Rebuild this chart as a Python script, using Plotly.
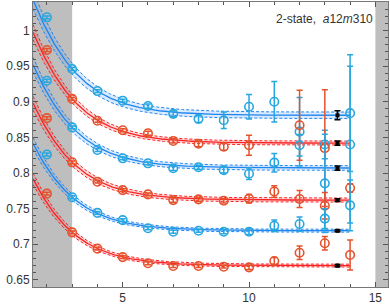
import numpy as np
import plotly.graph_objects as go

# ---------------- data ----------------
t = [2, 3, 4, 5, 6, 7, 8, 9, 10, 11, 12, 13, 14]

blue1 = [1.0185, 0.946, 0.915, 0.9015, 0.894, 0.883, 0.876, 0.874, 0.893, 0.900, 0.858, 0.840, 0.884]
blue1_err = [0.002, 0.002, 0.002, 0.002, 0.003, 0.004, 0.005, 0.0115, 0.0173, 0.0285, 0.048, 0.02, 0.082]
red1 = [0.9727, 0.904, 0.8734, 0.860, 0.8557, 0.845, 0.841, 0.8369, 0.839, None, 0.867, 0.835, None]
red1_err = [0.002, 0.002, 0.002, 0.002, 0.003, 0.003, 0.004, 0.005, 0.014, None, 0.049, 0.082, None]
blue2 = [0.9295, 0.864, 0.8323, 0.8206, 0.8136, 0.8066, 0.808, 0.804, 0.799, 0.8145, 0.839, 0.7855, 0.840]
blue2_err = [0.002, 0.002, 0.002, 0.002, 0.002, 0.003, 0.003, 0.004, 0.008, 0.013, 0.015, 0.069, 0.110]
red2 = [0.877, 0.815, 0.7878, 0.776, 0.770, 0.762, 0.763, 0.761, 0.764, 0.774, 0.7635, 0.754, 0.779]
red2_err = [0.002, 0.002, 0.002, 0.002, 0.002, 0.003, 0.003, 0.003, 0.006, 0.008, 0.012, 0.0187, 0.006]
blue3 = [0.826, 0.766, 0.744, 0.7338, 0.7224, 0.7176, 0.719, 0.7176, 0.7176, 0.726, 0.7284, 0.736, 0.7546]
blue3_err = [0.002, 0.002, 0.002, 0.002, 0.002, 0.002, 0.002, 0.003, 0.004, 0.008, 0.010, 0.014, 0.0357]
red3 = [0.771, 0.7167, 0.6938, 0.682, 0.6733, 0.6695, 0.6695, 0.6685, 0.6676, 0.6765, 0.688, 0.7014, 0.685]
red3_err = [0.002, 0.002, 0.002, 0.002, 0.002, 0.002, 0.002, 0.002, 0.003, 0.005, 0.0095, 0.0095, 0.021]

# fit results (2-state): plateau, excess at t=3, gap, plateau error, band half-width
plateau = [0.881, 0.842, 0.807, 0.762, 0.719, 0.670]
excess3 = [0.065, 0.062, 0.057, 0.053, 0.047, 0.0467]
gap = [0.7, 0.7, 0.7, 0.7, 0.7, 0.7]
plateau_err = [0.0063, 0.003, 0.003, 0.002, 0.0015, 0.0015]
band_hw = [0.0045, 0.0028, 0.0032, 0.0028, 0.002, 0.002]
fit_tmin, fit_tmax = 1.45, 14
plateau_x = 13.5
excluded_lo = 3
excluded_hi = 15

x_ticks = [5, 10, 15]
y_ticks = [0.65, 0.7, 0.75, 0.8, 0.85, 0.9, 0.95, 1]
y_ticktext = ["0.65", "0.7", "0.75", "0.8", "0.85", "0.9", "0.95", "1"]
label = "2-state,  <i>a</i>12<i>m</i>310"

# ---------------- styles ----------------
BLUE_PT = "#27A7DF"
RED_PT = "#E4522C"
BLUE_LN = "#1F86F0"
RED_LN = "#FA2222"
BLUE_BAND = "rgba(90,160,245,0.22)"
RED_BAND = "rgba(250,90,90,0.22)"

series = [
    (blue1, blue1_err, BLUE_PT, BLUE_LN, BLUE_BAND),
    (red1, red1_err, RED_PT, RED_LN, RED_BAND),
    (blue2, blue2_err, BLUE_PT, BLUE_LN, BLUE_BAND),
    (red2, red2_err, RED_PT, RED_LN, RED_BAND),
    (blue3, blue3_err, BLUE_PT, BLUE_LN, BLUE_BAND),
    (red3, red3_err, RED_PT, RED_LN, RED_BAND),
]

X_RANGE = [1.45, 15.5]
Y_RANGE = [0.64, 1.04]

fig = go.Figure()

tt = np.linspace(fit_tmin, fit_tmax, 300)


def fit_curve(P, B, d):
    e = np.exp(-d)
    q3 = (np.exp(B) - 1) / (1 - np.exp(B) * e)
    R = q3 * np.exp(3 * d)
    q = R * np.exp(-d * tt)
    ex = np.log((1 + q) / (1 + q * e))
    return P + ex, ex


for i, (vals, errs, cpt, cln, cband) in enumerate(series):
    yc, ex = fit_curve(plateau[i], excess3[i], gap[i])
    hw = band_hw[i] + 0.05 * ex
    up = yc + hw
    lo = yc - hw
    fig.add_trace(go.Scatter(x=tt, y=lo, mode="lines", line=dict(color=cln, width=1, dash="3px,2px"),
                             hoverinfo="skip", showlegend=False))
    fig.add_trace(go.Scatter(x=tt, y=up, mode="lines", line=dict(color=cln, width=1, dash="3px,2px"),
                             fill="tonexty", fillcolor=cband, hoverinfo="skip", showlegend=False))
    fig.add_trace(go.Scatter(x=tt, y=yc, mode="lines", line=dict(color=cln, width=1.3),
                             hoverinfo="skip", showlegend=False))

for i, (vals, errs, cpt, cln, cband) in enumerate(series):
    fig.add_trace(go.Scatter(
        x=t, y=vals, mode="markers",
        marker=dict(symbol="circle-open", size=8.5, color=cpt, line=dict(width=1.6, color=cpt)),
        error_y=dict(type="data", array=errs, visible=True, color=cpt, thickness=1.5, width=3),
        showlegend=False))

fig.add_trace(go.Scatter(
    x=[plateau_x] * len(plateau), y=plateau, mode="markers",
    marker=dict(symbol="square", size=4, color="black"),
    error_y=dict(type="data", array=plateau_err, visible=True, color="black", thickness=1.5, width=3),
    showlegend=False))

fig.add_shape(type="rect", xref="x", yref="paper", x0=X_RANGE[0], x1=excluded_lo, y0=0, y1=1,
              fillcolor="#BEBEBE", line=dict(width=0), layer="below")
fig.add_shape(type="rect", xref="x", yref="paper", x0=excluded_hi, x1=X_RANGE[1], y0=0, y1=1,
              fillcolor="#BEBEBE", line=dict(width=0), layer="below")

fig.add_annotation(text=label, xref="paper", yref="paper", x=0.962, y=0.94,
                   xanchor="right", yanchor="middle", showarrow=False,
                   font=dict(family="Liberation Sans", size=12, color="#333"))

axis_common = dict(showline=True, linecolor="#777", linewidth=1, mirror="ticks", ticks="inside",
                   showgrid=False, zeroline=False, tickcolor="#555",
                   tickfont=dict(family="Liberation Sans", size=12, color="#333"))

fig.update_xaxes(range=X_RANGE, tickvals=x_ticks, ticklen=5,
                 minor=dict(ticks="inside", dtick=1, ticklen=3, tickcolor="#555", showgrid=False),
                 **axis_common)
fig.update_yaxes(range=Y_RANGE, tickvals=y_ticks, ticktext=y_ticktext, ticklen=5,
                 minor=dict(ticks="inside", dtick=0.01, ticklen=3, tickcolor="#555", showgrid=False),
                 **axis_common)

fig.update_layout(width=390, height=305, margin=dict(l=33, r=2, t=2, b=18, autoexpand=False),
                  plot_bgcolor="white", paper_bgcolor="white")

fig.write_html("out.html", config={"displayModeBar": False},
               post_script="document.body.style.margin='0';document.body.style.padding='0';")
